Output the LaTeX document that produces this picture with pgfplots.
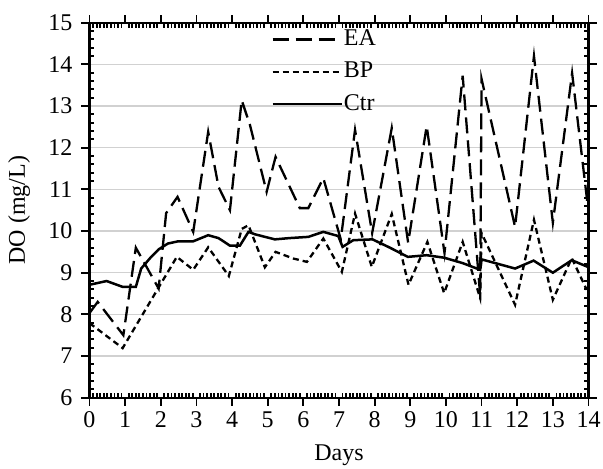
\documentclass[border=0pt]{standalone}
\usepackage{fontspec}
\setmainfont{Liberation Serif}
\usepackage{pgfplots}
\pgfplotsset{compat=1.18}
\begin{document}
\fontsize{24}{28}\selectfont
\begin{tikzpicture}
\useasboundingbox (-89.5pt,-71.3pt) rectangle (513.5pt,397.7pt);
\begin{axis}[
  at={(0pt,0pt)}, anchor=south west,
  scale only axis, width=499pt, height=375pt,
  xmin=0, xmax=14, ymin=6, ymax=15,
  xtick={0,1,...,14}, ytick={6,7,...,15},
  minor x tick num=9, minor y tick num=4,
  tick align=inside,
  major tick length=-8pt, minor tick length=5pt,
  every tick/.style={black, line width=1.8pt},
  axis line style={black, line width=2.4pt},
  ymajorgrids, major grid style={draw=black!18, line width=1.5pt},
  /pgf/number format/assume math mode=true,
  ticklabel style={font=\fontsize{24}{28}\selectfont},
  yticklabel style={xshift=-9pt},
  xticklabel style={yshift=-6pt},
  xlabel={Days}, ylabel={DO (mg/L)},
  label style={font=\fontsize{24}{28}\selectfont},
  xlabel style={yshift=0pt},
  ylabel style={yshift=2pt},
  legend style={at={(0.358,0.99)}, anchor=north west, draw=none, fill=none,
    font=\fontsize{24}{28}\selectfont, row sep=11pt,
    nodes={inner xsep=1pt, inner ysep=1pt}},
  legend cell align=left,
  legend image code/.code={\draw[#1] (0pt,0pt) -- (69pt,0pt);},
]
\addplot[black, line width=2.3pt, dash pattern=on 16pt off 7pt] coordinates {
(0,8.03) (0.23,8.3) (0.95,7.5) (1.3,9.6) (1.94,8.62) (2.15,10.43) (2.47,10.82)
(2.91,9.98) (3.33,12.38) (3.62,11.06) (3.94,10.5) (4.27,13.14) (4.5,12.55)
(4.97,10.94) (5.22,11.78) (5.9,10.55) (6.14,10.55) (6.56,11.27) (7.05,9.8)
(7.45,12.43) (7.93,9.95) (8.48,12.47) (8.94,9.72) (9.46,12.52) (9.96,9.47)
(10.47,13.73) (10.96,8.45) (11.0,13.65) (11.94,10.1) (12.47,14.2) (13.0,10.2)
(13.54,13.79) (13.97,10.67)
};
\addlegendentry{EA}
\addplot[black, line width=2.3pt, dash pattern=on 6pt off 4pt] coordinates {
(0,7.79) (0.93,7.19) (2.45,9.38) (2.91,9.07) (3.33,9.61) (3.91,8.92)
(4.27,10.05) (4.46,10.14) (4.92,9.13) (5.22,9.5) (5.72,9.34) (6.1,9.26)
(6.56,9.82) (7.08,9.02) (7.45,10.42) (7.92,9.14) (8.48,10.41) (8.95,8.71)
(9.48,9.74) (9.95,8.51) (10.47,9.74) (10.96,8.39) (11.0,9.95) (11.94,8.23)
(12.47,10.27) (13.0,8.35) (13.53,9.35) (13.95,8.59)
};
\addlegendentry{BP}
\addplot[black, line width=2.5pt] coordinates {
(0,8.71) (0.48,8.80) (0.93,8.66) (1.3,8.66) (1.45,9.1) (1.7,9.35) (1.94,9.56)
(2.2,9.7) (2.47,9.75) (2.9,9.75) (3.33,9.9) (3.62,9.83) (3.94,9.65) (4.22,9.65)
(4.46,9.98) (4.65,9.92) (5.2,9.8) (5.6,9.83) (6.14,9.86) (6.56,9.98) (6.98,9.88)
(7.1,9.62) (7.4,9.78) (7.94,9.8) (8.43,9.6) (8.93,9.38) (9.46,9.42) (9.95,9.36)
(10.47,9.23) (10.96,9.07) (11.0,9.32) (11.94,9.1) (12.46,9.29) (13.0,9.0)
(13.53,9.3) (13.98,9.14)
};
\addlegendentry{Ctr}
\end{axis}
\end{tikzpicture}
\end{document}
